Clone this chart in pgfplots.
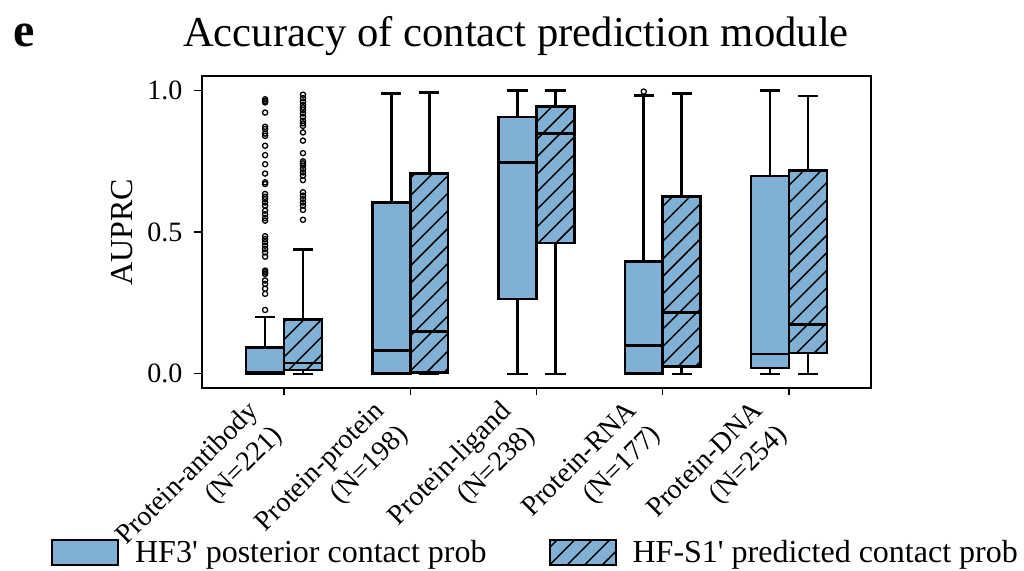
\documentclass[border=0pt]{standalone}
\usepackage{fontspec}
\setmainfont{Liberation Serif}[Ligatures=TeXOff]
\usepackage{pgfplots}
\pgfplotsset{compat=1.18}
\usepgfplotslibrary{statistics}
\usetikzlibrary{patterns.meta}

\definecolor{boxblue}{RGB}{128,176,211}

\tikzset{
  hatch/.style={postaction={pattern={Lines[angle=45,distance=6.2pt,line width=0.75pt]},pattern color=black}},
}

\begin{document}
\begin{tikzpicture}
% fixed canvas around the axis box (axis box = 334.5pt x 156pt)
\path[use as bounding box] (-101pt,-91.5pt) rectangle (411pt,194pt);

\begin{axis}[
  scale only axis,
  width=334.5pt, height=156pt,
  xmin=-0.65, xmax=4.65,
  ymin=-0.05, ymax=1.05,
  boxplot/draw direction=y,
  axis line style={line width=0.7pt},
  tick align=outside,
  tick pos=left,
  major tick length=3.75pt,
  tick style={black, line width=0.6pt},
  xtick={0,1,2,3,4},
  xticklabels={{Protein-antibody\\(N=221)},{Protein-protein\\(N=198)},{Protein-ligand\\(N=238)},{Protein-RNA\\(N=177)},{Protein-DNA\\(N=254)}},
  xticklabel style={font=\fontsize{14}{16.8}\selectfont, align=right, inner sep=0pt,
    xshift=-19pt, yshift=-1.5pt, rotate=45, anchor=north east},
  ytick={0,0.5,1},
  yticklabels={0.0,0.5,1.0},
  yticklabel style={font=\fontsize{14}{16.8}\selectfont, xshift=-2.5pt},
  /pgf/number format/assume math mode=true,
  ylabel={AUPRC},
  ylabel style={font=\fontsize{16}{19.2}\selectfont, at={(axis description cs:-0.103,0.5)}, anchor=south, inner sep=0pt},
  legend style={at={(0.5,-0.5288)}, anchor=center, draw=none, fill=none,
    font=\fontsize{16}{19.2}\selectfont, legend columns=2,
    /tikz/every odd column/.append style={column sep=6pt},
    /tikz/every even column/.append style={column sep=29pt}},
  legend cell align=left,
  boxplot/box extend=0.3,
  boxplot/whisker extend=0.16,
]

% legend swatches
\addlegendimage{legend image code/.code={\draw[draw=black,fill=boxblue,line width=1pt] (0pt,-6.25pt) rectangle (33pt,6.25pt);}}
\addlegendentry{HF3' posterior contact prob}
\addlegendimage{legend image code/.code={\draw[draw=black,fill=boxblue,line width=1pt,hatch] (0pt,-6.25pt) rectangle (33pt,6.25pt);}}
\addlegendentry{HF-S1' predicted contact prob}

\pgfplotsset{
  plainbox/.style={forget plot, draw=black, fill=boxblue, line width=1.3pt, mark=none},
  hatchbox/.style={forget plot, draw=black, fill=boxblue, line width=1.3pt, mark=none,
    boxplot/every box/.append style={hatch}},
}

% HF3' posterior contact prob
\addplot[plainbox, boxplot prepared={draw position=-0.15, lower whisker=0, lower quartile=0.001, median=0.004, upper quartile=0.092, upper whisker=0.200}] coordinates {};
\addplot[plainbox, boxplot prepared={draw position=0.85, lower whisker=0, lower quartile=0.002, median=0.082, upper quartile=0.603, upper whisker=0.989}] coordinates {};
\addplot[plainbox, boxplot prepared={draw position=1.85, lower whisker=0, lower quartile=0.264, median=0.745, upper quartile=0.906, upper whisker=0.998}] coordinates {};
\addplot[plainbox, boxplot prepared={draw position=2.85, lower whisker=0, lower quartile=0.002, median=0.100, upper quartile=0.397, upper whisker=0.982}] coordinates {};
\addplot[plainbox, boxplot prepared={draw position=3.85, lower whisker=0, lower quartile=0.021, median=0.070, upper quartile=0.698, upper whisker=0.998}] coordinates {};

% HF-S1' predicted contact prob
\addplot[hatchbox, boxplot prepared={draw position=0.15, lower whisker=0, lower quartile=0.014, median=0.038, upper quartile=0.191, upper whisker=0.438}] coordinates {};
\addplot[hatchbox, boxplot prepared={draw position=1.15, lower whisker=0, lower quartile=0.005, median=0.150, upper quartile=0.707, upper whisker=0.991}] coordinates {};
\addplot[hatchbox, boxplot prepared={draw position=2.15, lower whisker=0, lower quartile=0.461, median=0.847, upper quartile=0.942, upper whisker=0.998}] coordinates {};
\addplot[hatchbox, boxplot prepared={draw position=3.15, lower whisker=0, lower quartile=0.026, median=0.216, upper quartile=0.626, upper whisker=0.988}] coordinates {};
\addplot[hatchbox, boxplot prepared={draw position=4.15, lower whisker=0, lower quartile=0.073, median=0.174, upper quartile=0.716, upper whisker=0.980}] coordinates {};

% outliers
\addplot[forget plot, only marks, mark=o, mark size=1.3pt, black, mark options={line width=0.65pt}] coordinates {
  (-0.15,0.968) (-0.15,0.962) (-0.15,0.957) (-0.15,0.921) (-0.15,0.871) (-0.15,0.863)
  (-0.15,0.847) (-0.15,0.839) (-0.15,0.804) (-0.15,0.771) (-0.15,0.739) (-0.15,0.706)
  (-0.15,0.675) (-0.15,0.669) (-0.15,0.634) (-0.15,0.624) (-0.15,0.616) (-0.15,0.604)
  (-0.15,0.593) (-0.15,0.575) (-0.15,0.563) (-0.15,0.549) (-0.15,0.540) (-0.15,0.485)
  (-0.15,0.475) (-0.15,0.464) (-0.15,0.452) (-0.15,0.440) (-0.15,0.428) (-0.15,0.413)
  (-0.15,0.364) (-0.15,0.358) (-0.15,0.352) (-0.15,0.329) (-0.15,0.317) (-0.15,0.300)
  (-0.15,0.282) (-0.15,0.225)
  (0.15,0.984) (0.15,0.972) (0.15,0.960) (0.15,0.948) (0.15,0.939) (0.15,0.930)
  (0.15,0.918) (0.15,0.906) (0.15,0.892) (0.15,0.883) (0.15,0.874) (0.15,0.851)
  (0.15,0.822) (0.15,0.778) (0.15,0.749) (0.15,0.742) (0.15,0.734) (0.15,0.722)
  (0.15,0.710) (0.15,0.699) (0.15,0.683) (0.15,0.640) (0.15,0.628) (0.15,0.616)
  (0.15,0.604) (0.15,0.593) (0.15,0.578) (0.15,0.543)
  (2.85,0.995)
};
\end{axis}

\node[anchor=base west, inner sep=0pt, font=\fontsize{24}{28}\selectfont\bfseries] at (-94.5pt,170.5pt) {e};
\node[anchor=base, inner sep=0pt, font=\fontsize{21.33}{25}\selectfont] at (157pt,170.5pt) {Accuracy of contact prediction module};
\end{tikzpicture}
\end{document}
